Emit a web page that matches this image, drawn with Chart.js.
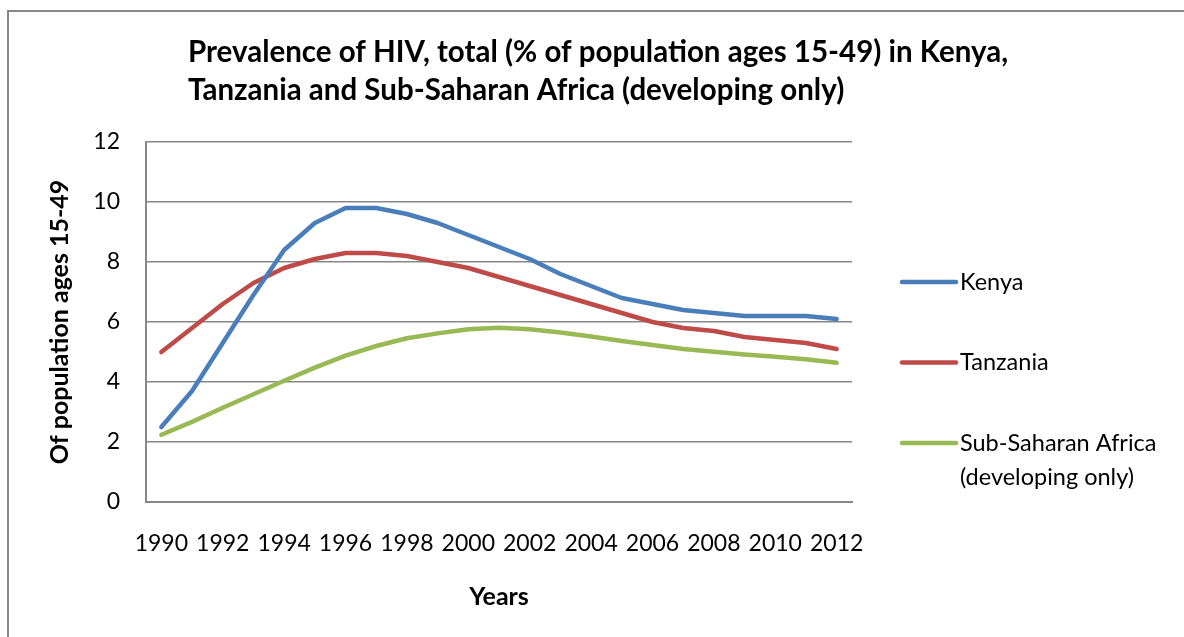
<!DOCTYPE html>
<html>
<head>
<meta charset="utf-8">
<script src="https://cdn.jsdelivr.net/npm/chart.js@4.4.1/dist/chart.umd.min.js"></script>
<style>
  html, body { margin: 0; padding: 0; background: #fff; }
  #wrap { position: relative; width: 1184px; height: 637px; }
</style>
</head>
<body>
<div id="wrap"><canvas id="grafico" width="1184" height="637"></canvas></div>
<script>
  // datos
  const years = ['1990','1991','1992','1993','1994','1995','1996','1997','1998','1999','2000','2001',
    '2002','2003','2004','2005','2006','2007','2008','2009','2010','2011','2012'];
  const kenya = [2.5, 3.7, 5.3, 6.9, 8.4, 9.3, 9.8, 9.8, 9.6, 9.3, 8.9, 8.5,
    8.1, 7.6, 7.2, 6.8, 6.6, 6.4, 6.3, 6.2, 6.2, 6.2, 6.1];
  const tanzania = [5.0, 5.8, 6.6, 7.3, 7.8, 8.1, 8.3, 8.3, 8.2, 8.0, 7.8, 7.5,
    7.2, 6.9, 6.6, 6.3, 6.0, 5.8, 5.7, 5.5, 5.4, 5.3, 5.1];
  const ssa = [2.24, 2.67, 3.14, 3.59, 4.04, 4.48, 4.88, 5.2, 5.46, 5.62, 5.76, 5.81,
    5.76, 5.65, 5.52, 5.37, 5.23, 5.1, 5.01, 4.92, 4.84, 4.76, 4.64];
  const seriesNames = ['Kenya', 'Tanzania', ['Sub-Saharan Africa', '(developing only)']];
  const titleLines = ['Prevalence of HIV, total (% of population ages 15-49) in Kenya,',
    'Tanzania and Sub-Saharan Africa (developing only)'];
  const yTitle = 'Of population ages 15-49';
  const xTitle = 'Years';

  const FONT = 'Lato';
  const GRID = '#878787';

  // marco exterior + título en dos líneas alineadas a la izquierda
  const marcoTitulo = {
    id: 'marcoTitulo',
    beforeDraw(chart) {
      const { ctx } = chart;
      ctx.save();
      ctx.fillStyle = '#fff';
      ctx.fillRect(0, 0, chart.width, chart.height);
      ctx.strokeStyle = GRID;
      ctx.lineWidth = 2;
      ctx.beginPath();
      ctx.moveTo(8, chart.height);
      ctx.lineTo(8, 11);
      ctx.lineTo(chart.width, 11);
      ctx.stroke();
      ctx.restore();
    },
    afterDraw(chart) {
      const { ctx } = chart;
      ctx.save();
      ctx.fillStyle = '#000';
      ctx.font = `bold 29.5px ${FONT}`;
      ctx.textAlign = 'left';
      ctx.textBaseline = 'alphabetic';
      ctx.fillText(titleLines[0], 188, 62);
      ctx.fillText(titleLines[1], 188, 100);
      ctx.restore();
    }
  };

  // leyenda a la derecha, con etiqueta de dos líneas
  const leyenda = {
    id: 'leyenda',
    afterDraw(chart) {
      const { ctx } = chart;
      ctx.save();
      ctx.font = `23.5px ${FONT}`;
      ctx.textAlign = 'left';
      ctx.textBaseline = 'middle';
      chart.data.datasets.forEach((ds, i) => {
        const y = 282 + i * 80.5;
        ctx.strokeStyle = ds.borderColor;
        ctx.lineWidth = 4.5;
        ctx.lineCap = 'round';
        ctx.beginPath();
        ctx.moveTo(902, y);
        ctx.lineTo(956, y);
        ctx.stroke();
        ctx.fillStyle = '#000';
        const lines = Array.isArray(ds.label) ? ds.label : [ds.label];
        lines.forEach((t, j) => ctx.fillText(t, 960, y + j * 34));
      });
      ctx.restore();
    }
  };

  const lineStyle = { borderWidth: 4.5, pointRadius: 0, tension: 0, fill: false,
    borderJoinStyle: 'round', borderCapStyle: 'round' };

  new Chart(document.getElementById('grafico').getContext('2d'), {
    type: 'line',
    data: {
      labels: years,
      datasets: [
        { label: seriesNames[0], data: kenya, borderColor: '#4A7EBB', ...lineStyle },
        { label: seriesNames[1], data: tanzania, borderColor: '#BE4B48', ...lineStyle },
        { label: seriesNames[2], data: ssa, borderColor: '#98B954', ...lineStyle }
      ]
    },
    options: {
      responsive: false,
      animation: false,
      devicePixelRatio: 1,
      layout: { padding: { left: 0, top: 142, right: 332, bottom: 0 } },
      plugins: { legend: { display: false }, title: { display: false }, tooltip: { enabled: false } },
      scales: {
        x: {
          offset: true,
          grid: { display: false, drawTicks: false },
          border: { display: true, color: GRID, width: 2 },
          ticks: {
            autoSkip: false, maxRotation: 0, minRotation: 0, padding: 28,
            color: '#000', font: { family: FONT, size: 23 },
            callback: (v, i) => (i % 2 === 0 ? years[i] : '')
          },
          title: { display: true, text: xTitle, color: '#000',
            font: { family: FONT, size: 25, weight: 'bold' }, padding: { top: 0, bottom: 25 } },
          afterFit: (s) => { s.height = 135; }
        },
        y: {
          min: 0, max: 12,
          grid: { color: GRID, lineWidth: 1.5, drawTicks: false },
          border: { display: true, color: GRID, width: 2 },
          ticks: { stepSize: 2, padding: 26, color: '#000', font: { family: FONT, size: 23 } },
          title: { display: true, text: yTitle, color: '#000',
            font: { family: FONT, size: 25, weight: 'bold' }, padding: { top: 45, bottom: 0 } },
          afterFit: (s) => { s.width = 146; }
        }
      }
    },
    plugins: [marcoTitulo, leyenda]
  });
</script>
</body>
</html>
